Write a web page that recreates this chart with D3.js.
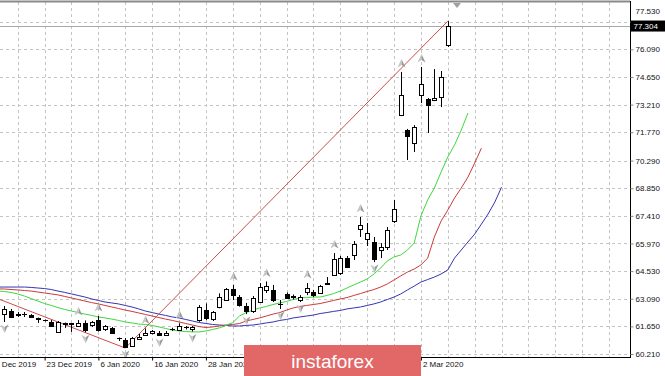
<!DOCTYPE html>
<html>
<head>
<meta charset="utf-8">
<script src="https://cdn.jsdelivr.net/npm/d3@7/dist/d3.min.js"></script>
<style>
  body { margin: 0; background: #fff; }
  svg { display: block; }
  text { font-family: "Liberation Sans", Arial, sans-serif; }
</style>
</head>
<body>
<svg id="chart" width="665" height="376"></svg>
<script>
// price axis labels
const yTicks = [77.53, 76.09, 74.65, 73.21, 71.77, 70.29, 68.85, 67.41, 65.97, 64.53, 63.09, 61.65, 60.21];
const bidPrice = 77.304;

// date labels (bar index -> text), the ones under the logo are not visible
// first one is cut by the left edge in the original, only "Dec 2019" shows
const xTickIdx = [-2, 6, 14, 22, 30, 62];
const xTickText = ["Dec 2019", "23 Dec 2019", "6 Jan 2020", "16 Jan 2020", "28 Jan 2020", "2 Mar 2020"];

// daily candles, bar 0 .. 66
const barOpen = [62.29, 62.45, 62.32, 62.29, 62.24, 62.09, 61.98, 61.88, 61.37, 61.83,
  61.80, 61.67, 61.84, 61.72, 61.98, 61.51, 61.57, 61.04, 60.94, 60.63,
  60.99, 61.20, 61.30, 61.32, 61.21, 61.49, 61.46, 61.63, 61.50, 61.98,
  62.50, 62.03, 62.68, 63.02, 63.60, 63.20, 62.71, 62.41, 62.94, 63.55,
  63.55, 62.83, 63.34, 63.23, 63.06, 63.46, 63.46, 63.39, 63.86, 64.33,
  64.43, 65.21, 65.37, 66.72, 66.20, 66.05, 65.63, 65.79, 67.14, 72.66,
  71.88, 71.21, 73.71, 73.50, 73.45, 73.60, 76.31];
const barHigh = [62.71, 62.56, 62.40, 62.40, 62.29, 62.11, 62.01, 61.98, 61.93, 61.85,
  61.83, 61.98, 61.96, 61.93, 62.19, 61.72, 61.62, 61.07, 61.04, 61.10,
  61.25, 61.54, 61.46, 61.41, 61.41, 61.58, 61.81, 61.67, 61.67, 62.76,
  62.85, 62.45, 63.37, 63.65, 63.81, 63.28, 62.87, 63.23, 63.91, 63.99,
  63.81, 63.02, 63.42, 63.31, 63.28, 63.91, 63.55, 63.81, 64.22, 65.47,
  65.32, 65.32, 66.10, 67.35, 67.04, 66.31, 65.99, 66.83, 68.24, 74.91,
  71.94, 72.14, 75.17, 73.55, 75.06, 74.96, 77.56];
const barLow = [61.88, 62.09, 62.14, 62.14, 62.09, 61.83, 61.90, 61.62, 61.36, 61.57,
  61.36, 61.62, 61.34, 61.62, 61.38, 61.41, 61.25, 60.89, 60.52, 60.58,
  60.94, 61.17, 61.23, 61.15, 61.19, 61.41, 61.42, 61.49, 61.38, 61.89,
  61.98, 61.93, 62.59, 62.99, 63.02, 62.68, 62.29, 62.35, 62.87, 63.39,
  62.92, 62.56, 63.08, 63.05, 62.92, 63.28, 63.18, 63.34, 63.83, 64.28,
  64.33, 64.69, 65.11, 66.31, 65.84, 65.00, 65.21, 65.63, 67.04, 72.61,
  70.32, 70.74, 73.29, 71.73, 73.39, 73.08, 76.21];
const barClose = [62.56, 62.14, 62.27, 62.28, 62.14, 62.06, 61.96, 61.67, 61.89, 61.80,
  61.77, 61.83, 61.46, 61.88, 61.46, 61.67, 61.30, 61.02, 60.59, 61.04,
  61.10, 61.32, 61.41, 61.24, 61.32, 61.50, 61.67, 61.62, 61.63, 62.68,
  62.09, 62.40, 63.20, 63.60, 63.28, 62.76, 62.45, 63.11, 63.72, 63.75,
  63.02, 62.81, 63.13, 63.18, 63.20, 63.65, 63.28, 63.75, 63.89, 65.16,
  65.21, 64.74, 65.94, 66.93, 66.52, 65.16, 65.79, 66.67, 67.77, 73.71,
  71.57, 72.04, 74.28, 73.19, 73.55, 74.64, 77.304];

// Alligator lines, first value sits at bar index -1 (lines run past the last bar)
const alligatorStart = -1;
const jaw = [63.70, 63.70, 63.70, 63.70, 63.70, 63.68, 63.65, 63.62, 63.57, 63.49,
  63.42, 63.34, 63.26, 63.18, 63.08, 63.00, 62.92, 62.87, 62.82, 62.74,
  62.66, 62.56, 62.45, 62.37, 62.29, 62.22, 62.14, 62.09, 62.01, 61.93,
  61.85, 61.80, 61.75, 61.72, 61.70, 61.67, 61.67, 61.70, 61.72, 61.77,
  61.83, 61.88, 61.96, 62.01, 62.09, 62.14, 62.19, 62.24, 62.32, 62.37,
  62.43, 62.48, 62.56, 62.61, 62.66, 62.74, 62.82, 62.92, 63.05, 63.18,
  63.34, 63.55, 63.75, 63.96, 64.09, 64.22, 64.38, 64.59, 65.21, 65.63,
  66.05, 66.46, 66.98, 67.51, 68.13, 68.91];
const teeth = [63.60, 63.60, 63.57, 63.55, 63.52, 63.49, 63.44, 63.39, 63.34, 63.29,
  63.21, 63.13, 63.05, 62.97, 62.89, 62.82, 62.74, 62.66, 62.58, 62.50,
  62.43, 62.35, 62.27, 62.19, 62.11, 62.03, 61.96, 61.88, 61.80, 61.72,
  61.64, 61.59, 61.62, 61.67, 61.72, 61.75, 61.80, 61.93, 62.01, 62.09,
  62.19, 62.29, 62.37, 62.50, 62.61, 62.69, 62.74, 62.79, 62.84, 62.92,
  63.00, 63.08, 63.15, 63.26, 63.36, 63.47, 63.57, 63.70, 63.86, 64.07,
  64.28, 64.48, 64.64, 64.85, 65.21, 66.31, 67.14, 67.71, 68.34, 68.86,
  69.43, 70.16, 70.94];
const lips = [63.49, 63.47, 63.42, 63.34, 63.23, 63.10, 62.97, 62.84, 62.74, 62.63,
  62.53, 62.45, 62.37, 62.29, 62.22, 62.14, 62.09, 62.03, 61.96, 61.88,
  61.83, 61.77, 61.75, 61.70, 61.62, 61.54, 61.46, 61.41, 61.38, 61.36,
  61.36, 61.41, 61.49, 61.57, 61.70, 61.85, 62.19, 62.37, 62.50, 62.61,
  62.69, 62.79, 62.87, 62.95, 63.05, 63.13, 63.15, 63.18, 63.18, 63.26,
  63.36, 63.49, 63.65, 63.81, 63.96, 64.12, 64.38, 64.69, 65.06, 65.27,
  65.37, 65.63, 65.99, 67.40, 68.24, 68.86, 69.69, 70.48, 71.10, 71.88,
  72.77];

// Fractals (bar indices)
const fractalUp = [11, 14, 21, 26, 34, 39, 45, 49, 53, 59, 62];
const fractalDown = [0, 12, 18, 23, 28, 36, 41, 44, 55];

// ZigZag turning points
const zigzagIdx = [-12, 18, 66];
const zigzagPrice = [64.59, 60.52, 77.56];

const W = 665, H = 376;
const plotRight = 630, plotTop = 2, plotBottom = 357;

const svg = d3.select("#chart");
svg.append("rect").attr("width", W).attr("height", H).attr("fill", "#fff");

const x = d3.scaleLinear().domain([0, 66]).range([4.3, 447.8]);
const y = d3.scaleLinear().domain([60.21, 77.53]).range([354, 21.7]);

svg.append("defs").append("clipPath").attr("id", "plotClip")
  .append("rect").attr("x", 0).attr("y", plotTop).attr("width", plotRight).attr("height", plotBottom - plotTop);

const plot = svg.append("g").attr("clip-path", "url(#plotClip)");

// grid
const gridIdx = d3.range(2, 96, 4);
plot.append("g").selectAll("line")
  .data(gridIdx)
  .join("line")
  .attr("x1", d => Math.round(x(d)) + 0.5).attr("x2", d => Math.round(x(d)) + 0.5)
  .attr("y1", plotTop).attr("y2", plotBottom)
  .attr("stroke", "#c4c4c4").attr("stroke-dasharray", "3,3");
plot.append("g").selectAll("line")
  .data(yTicks)
  .join("line")
  .attr("x1", 0).attr("x2", plotRight)
  .attr("y1", d => Math.round(y(d)) + 0.5).attr("y2", d => Math.round(y(d)) + 0.5)
  .attr("stroke", "#c4c4c4").attr("stroke-dasharray", "3,3");

// bid line
plot.append("line")
  .attr("x1", 0).attr("x2", plotRight)
  .attr("y1", Math.round(y(bidPrice)) + 0.5).attr("y2", Math.round(y(bidPrice)) + 0.5)
  .attr("stroke", "#a8a8a8");

// alligator
const line = d3.line().x(d => x(d[0])).y(d => y(d[1]));
const toPts = vals => vals.map((v, k) => [alligatorStart + k, v]);
[[jaw, "#3434b4"], [teeth, "#cc3a3a"], [lips, "#3ed83e"]].forEach(([vals, col]) => {
  plot.append("path").attr("d", line(toPts(vals)))
    .attr("fill", "none").attr("stroke", col).attr("stroke-width", 1);
});

// zigzag
plot.append("path")
  .attr("d", line(zigzagIdx.map((d, k) => [d, zigzagPrice[k]])))
  .attr("fill", "none").attr("stroke", "#cf4b4b").attr("stroke-width", 1);

// candles
const bars = d3.range(barOpen.length);
const cx = i => Math.round(x(i)) + 0.5;
const candles = plot.append("g").selectAll("g").data(bars).join("g");
candles.append("line")
  .attr("x1", cx).attr("x2", cx)
  .attr("y1", i => y(barHigh[i])).attr("y2", i => y(barLow[i]))
  .attr("stroke", "#000");
candles.append("rect")
  .attr("x", i => cx(i) - 2)
  .attr("width", 4)
  .attr("y", i => Math.round(y(Math.max(barOpen[i], barClose[i]))) + 0.5)
  .attr("height", i => Math.max(0.01, Math.round(Math.abs(y(barOpen[i]) - y(barClose[i])))))
  .attr("fill", i => barClose[i] >= barOpen[i] ? "#fff" : "#000")
  .attr("stroke", "#000");

// fractal arrows
function arrow(g, cxp, cyp, up) {
  const s = up ? 1 : -1;
  g.append("path")
    .attr("d", `M${cxp},${cyp - 4.5 * s} L${cxp + 4},${cyp + 4 * s} L${cxp},${cyp + 1.5 * s} Z`)
    .attr("fill", "#9a9a9a");
  g.append("path")
    .attr("d", `M${cxp},${cyp - 4.5 * s} L${cxp - 4},${cyp + 4 * s} L${cxp},${cyp + 1.5 * s} Z`)
    .attr("fill", "#c4c4c4");
}
const fr = plot.append("g");
fractalUp.forEach(i => arrow(fr, cx(i), y(barHigh[i]) - 8.5, true));
fractalDown.forEach(i => arrow(fr, cx(i), y(barLow[i]) + 6.5, false));

// chart shift marker
svg.append("path").attr("d", "M453,3 L461,3 L457,8 Z").attr("fill", "#a0a0a0");

// frame
svg.append("line").attr("x1", 0).attr("x2", plotRight).attr("y1", 1.5).attr("y2", 1.5).attr("stroke", "#8a8a8a").attr("stroke-width", 2);
svg.append("line").attr("x1", plotRight + 0.5).attr("x2", plotRight + 0.5).attr("y1", 1).attr("y2", plotBottom + 1).attr("stroke", "#000");
svg.append("line").attr("x1", 0).attr("x2", plotRight + 1).attr("y1", plotBottom + 0.5).attr("y2", plotBottom + 0.5).attr("stroke", "#000");

// price axis
const yAxis = svg.append("g").attr("transform", `translate(${plotRight + 0.5},0)`)
  .call(d3.axisRight(y).tickValues(yTicks).tickSize(3).tickPadding(2).tickFormat(d => d.toFixed(3)));
yAxis.select(".domain").remove();
yAxis.selectAll(".tick line").attr("stroke", "#888");
yAxis.selectAll(".tick text").attr("font-size", 8).attr("fill", "#111")
  .attr("font-family", "Liberation Sans, Arial, sans-serif");
yAxis.selectAll(".tick").filter(d => d === 77.53).select("text").attr("y", -11);

// bid box
const by = y(bidPrice);
svg.append("rect").attr("x", plotRight + 1).attr("y", by - 5.5).attr("width", W - plotRight - 1).attr("height", 11).attr("fill", "#000");
svg.append("text").attr("x", plotRight + 3.5).attr("y", by).attr("dy", "0.34em")
  .attr("font-size", 8).attr("fill", "#fff").text(bidPrice.toFixed(3));

// date axis
const xAxis = svg.append("g").attr("transform", `translate(0,${plotBottom + 0.5})`)
  .call(d3.axisBottom(x).tickValues(xTickIdx).tickSize(3).tickFormat((d, k) => xTickText[k]));
xAxis.select(".domain").remove();
xAxis.selectAll(".tick line").attr("stroke", "#000");
xAxis.selectAll(".tick text").attr("text-anchor", "start").attr("x", 1.5).attr("y", 4)
  .attr("font-size", 8).attr("fill", "#111")
  .attr("font-family", "Liberation Sans, Arial, sans-serif");
// the cut-off first label: keep its visible part starting at the left edge
xAxis.selectAll(".tick").filter(d => d === -2).select("text").attr("x", 10.5);

// logo
svg.append("rect").attr("x", 244).attr("y", 345).attr("width", 177).attr("height", 31).attr("fill", "#e26767");
svg.append("text").attr("x", 332.5).attr("y", 367.5).attr("text-anchor", "middle")
  .attr("font-family", "Open Sans, sans-serif").attr("font-size", 19).attr("fill", "#fff")
  .text("instaforex");
</script>
</body>
</html>
